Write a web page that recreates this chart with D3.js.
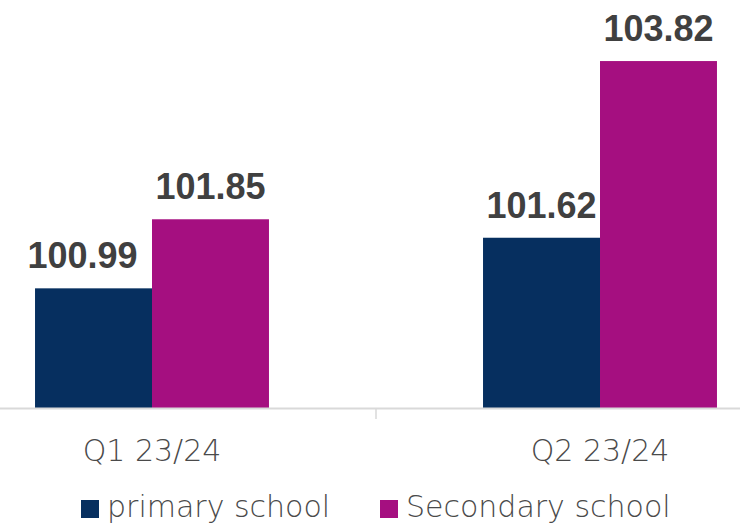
<!DOCTYPE html>
<html>
<head>
<meta charset="utf-8">
<script src="https://cdn.jsdelivr.net/npm/d3@7/dist/d3.min.js"></script>
<style>
  body { margin: 0; background: #fff; }
  svg { display: block; }
  .cat { font-family: "DejaVu Sans", sans-serif; font-weight: 200; fill: #4a4a4a; }
  .val { font-family: "Liberation Sans", Arial, sans-serif; font-weight: bold; fill: #404040; }
</style>
</head>
<body>
<script>
var w = 740;
var h = 525;

// data
var categories = ['Q1 23/24', 'Q2 23/24'];
var seriesNames = ['primary school', 'Secondary school'];
var primary = [100.99, 101.62];
var secondary = [101.85, 103.82];
var colors = ['#062f5f', '#a50f80'];

var rows = categories.map(function(c, i){
  return {cat: c, vals: [primary[i], secondary[i]]};
});

var svg = d3.select('body').append('svg')
    .attr('width', w)
    .attr('height', h);

var x0 = d3.scaleBand().domain(categories).range([-72, 824]).padding(0);
var x1 = d3.scaleBand().domain(seriesNames).range([0, x0.bandwidth()])
    .paddingInner(0).paddingOuter(0.915);
var y = d3.scaleLinear().domain([99.5, 104]).range([408, 46.6]);

var groups = svg.selectAll('g.grp').data(rows).enter().append('g')
    .attr('class', 'grp')
    .attr('transform', function(d){ return 'translate(' + x0(d.cat) + ',0)'; });

var cells = function(d, gi){
  return d.vals.map(function(v, i){ return {name: seriesNames[i], v: v, i: i, g: d.cat}; });
};

groups.selectAll('rect').data(cells).enter().append('rect')
    .attr('x', function(d){ return x1(d.name); })
    .attr('y', function(d){ return y(d.v); })
    .attr('width', x1.bandwidth())
    .attr('height', function(d){ return y(99.5) - y(d.v); })
    .attr('fill', function(d){ return colors[d.i]; });

// the first label sits a bit left of its bar in the original
groups.selectAll('text.val').data(cells).enter().append('text')
    .attr('class', 'val')
    .attr('x', function(d){
      var nudge = (d.g === categories[0] && d.i === 0) ? -11 : 0;
      return x1(d.name) + x1.bandwidth() / 2 + nudge;
    })
    .attr('y', function(d){ return y(d.v) - 20; })
    .attr('text-anchor', 'middle')
    .attr('font-size', 36)
    .text(function(d){ return d.v.toFixed(2); });

// axis line and the tick between the categories
svg.append('line')
    .attr('x1', 0).attr('x2', w)
    .attr('y1', y(99.5) + 0.5).attr('y2', y(99.5) + 0.5)
    .attr('stroke', '#d9d9d9').attr('stroke-width', 2);
svg.append('line')
    .attr('x1', x0(categories[1])).attr('x2', x0(categories[1]))
    .attr('y1', y(99.5)).attr('y2', y(99.5) + 11)
    .attr('stroke', '#d9d9d9').attr('stroke-width', 1.5);

svg.selectAll('text.catlab').data(categories).enter().append('text')
    .attr('class', 'cat catlab')
    .attr('x', function(d){ return x0(d) + x0.bandwidth() / 2; })
    .attr('y', 461)
    .attr('text-anchor', 'middle')
    .attr('font-size', 30)
    .text(function(d){ return d; });

// legend
var legendX = [81, 380];
var legend = svg.selectAll('g.leg').data(seriesNames).enter().append('g')
    .attr('class', 'leg')
    .attr('transform', function(d, i){ return 'translate(' + legendX[i] + ',500)'; });
legend.append('rect')
    .attr('width', 18).attr('height', 18)
    .attr('fill', function(d, i){ return colors[i]; });
legend.append('text')
    .attr('class', 'cat')
    .attr('x', 26).attr('y', 17)
    .attr('font-size', 30)
    .text(function(d){ return d; });
</script>
</body>
</html>
